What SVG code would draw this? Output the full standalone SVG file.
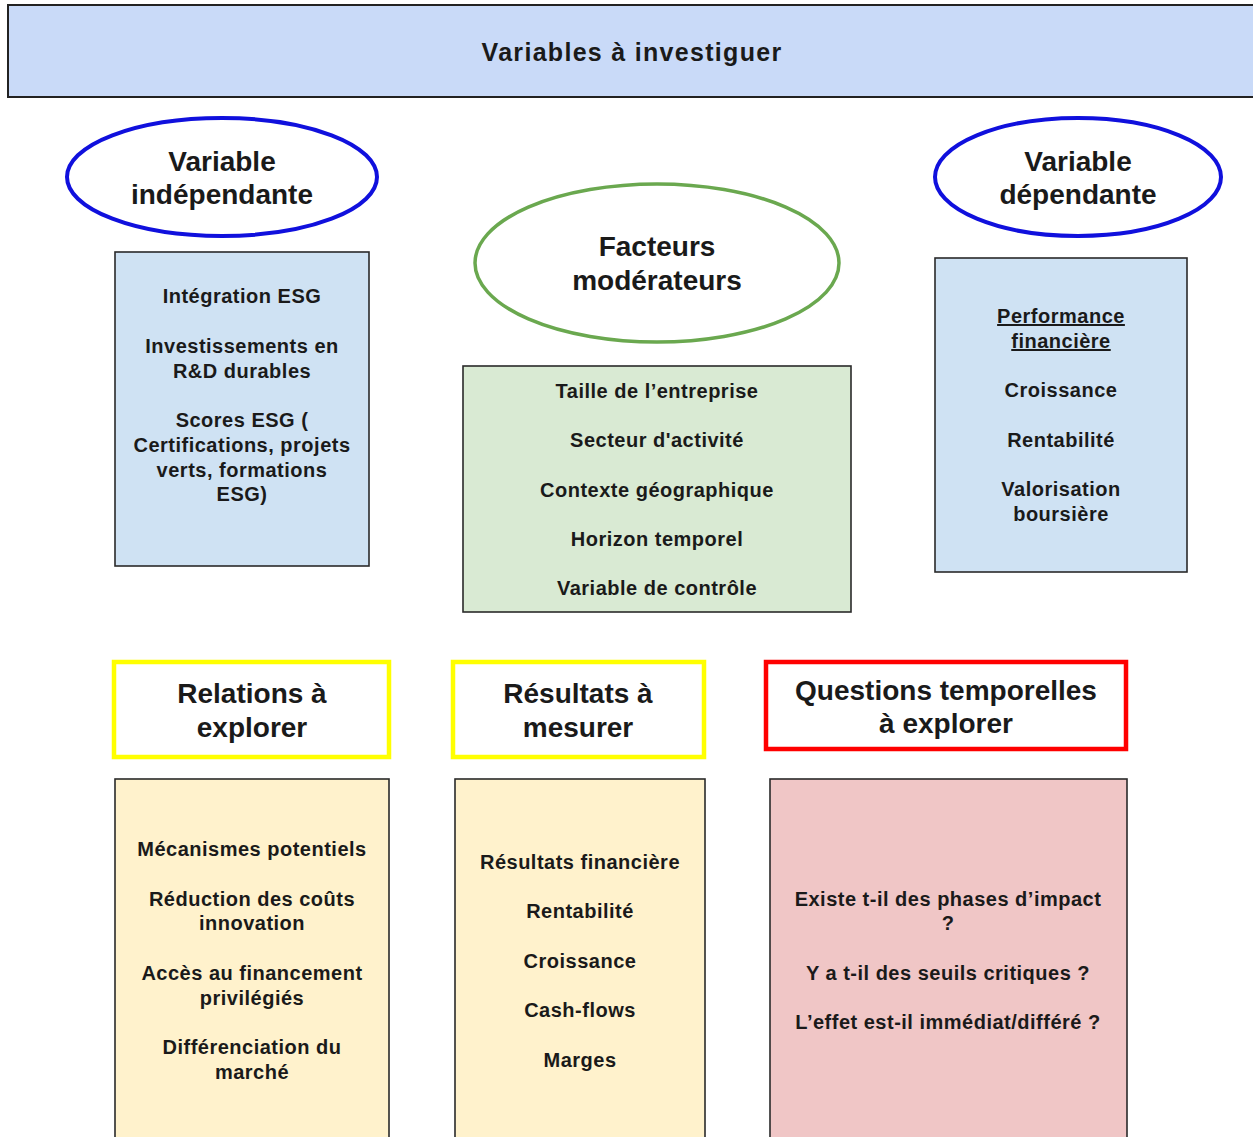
<svg xmlns="http://www.w3.org/2000/svg" width="1253" height="1137" viewBox="0 0 1253 1137">
<style>
  text { font-family: "Liberation Sans", Arial, sans-serif; font-weight: bold; fill: #1a1a1a; text-anchor: middle; }
  .title { font-size: 28px; }
  .head { font-size: 25px; letter-spacing: 1.3px; }
  .item { font-size: 20px; letter-spacing: 0.5px; }
  .box { stroke: #2a2a2a; stroke-width: 1.6; }
  .ell-blue { fill: #ffffff; stroke: #1010dd; stroke-width: 4; }
  .ell-green { fill: #ffffff; stroke: #6aa84f; stroke-width: 3.5; }
  .hdr-yellow { fill: #ffffff; stroke: #ffff00; stroke-width: 4.5; }
  .hdr-red { fill: #ffffff; stroke: #ff0000; stroke-width: 4.5; }
</style>
<rect width="1253" height="1137" fill="#ffffff"/>

<g id="header">
  <rect x="8" y="5" width="1260" height="92" fill="#c9daf8" stroke="#222" stroke-width="2"/>
  <text class="head" x="632" y="61">Variables à investiguer</text>
</g>

<g id="var-indep-title">
  <ellipse class="ell-blue" cx="222" cy="177" rx="155" ry="59"/>
  <text class="title" x="222" y="171">Variable</text>
  <text class="title" x="222" y="204">indépendante</text>
</g>

<g id="var-indep-box">
  <rect class="box" x="115" y="252" width="254" height="314" fill="#cfe2f3"/>
  <text class="item" x="242" y="303">Intégration ESG</text>
  <text class="item" x="242" y="353">Investissements en</text>
  <text class="item" x="242" y="378">R&amp;D durables</text>
  <text class="item" x="242" y="427">Scores ESG (</text>
  <text class="item" x="242" y="452">Certifications, projets</text>
  <text class="item" x="242" y="477">verts, formations</text>
  <text class="item" x="242" y="501">ESG)</text>
</g>

<g id="moderateurs-title">
  <ellipse class="ell-green" cx="657" cy="263" rx="182" ry="79"/>
  <text class="title" x="657" y="256">Facteurs</text>
  <text class="title" x="657" y="290">modérateurs</text>
</g>

<g id="moderateurs-box">
  <rect class="box" x="463" y="366" width="388" height="246" fill="#d9ead3"/>
  <text class="item" x="657" y="398">Taille de l’entreprise</text>
  <text class="item" x="657" y="447">Secteur d'activité</text>
  <text class="item" x="657" y="497">Contexte géographique</text>
  <text class="item" x="657" y="546">Horizon temporel</text>
  <text class="item" x="657" y="595">Variable de contrôle</text>
</g>

<g id="var-dep-title">
  <ellipse class="ell-blue" cx="1078" cy="177" rx="143" ry="59"/>
  <text class="title" x="1078" y="171">Variable</text>
  <text class="title" x="1078" y="204">dépendante</text>
</g>

<g id="var-dep-box">
  <rect class="box" x="935" y="258" width="252" height="314" fill="#cfe2f3"/>
  <text class="item" x="1061" y="323" text-decoration="underline">Performance</text>
  <text class="item" x="1061" y="348" text-decoration="underline">financière</text>
  <text class="item" x="1061" y="397">Croissance</text>
  <text class="item" x="1061" y="447">Rentabilité</text>
  <text class="item" x="1061" y="496">Valorisation</text>
  <text class="item" x="1061" y="521">boursière</text>
</g>

<g id="relations-title">
  <rect class="hdr-yellow" x="114" y="662" width="275" height="95"/>
  <text class="title" x="252" y="703">Relations à</text>
  <text class="title" x="252" y="737">explorer</text>
</g>

<g id="relations-box">
  <rect class="box" x="115" y="779" width="274" height="380" fill="#fff2cc"/>
  <text class="item" x="252" y="856">Mécanismes potentiels</text>
  <text class="item" x="252" y="906">Réduction des coûts</text>
  <text class="item" x="252" y="930">innovation</text>
  <text class="item" x="252" y="980">Accès au financement</text>
  <text class="item" x="252" y="1005">privilégiés</text>
  <text class="item" x="252" y="1054">Différenciation du</text>
  <text class="item" x="252" y="1079">marché</text>
</g>

<g id="resultats-title">
  <rect class="hdr-yellow" x="453" y="662" width="251" height="95"/>
  <text class="title" x="578" y="703">Résultats à</text>
  <text class="title" x="578" y="737">mesurer</text>
</g>

<g id="resultats-box">
  <rect class="box" x="455" y="779" width="250" height="380" fill="#fff2cc"/>
  <text class="item" x="580" y="869">Résultats financière</text>
  <text class="item" x="580" y="918">Rentabilité</text>
  <text class="item" x="580" y="968">Croissance</text>
  <text class="item" x="580" y="1017">Cash-flows</text>
  <text class="item" x="580" y="1067">Marges</text>
</g>

<g id="questions-title">
  <rect class="hdr-red" x="766" y="662" width="360" height="87"/>
  <text class="title" x="946" y="700">Questions temporelles</text>
  <text class="title" x="946" y="733">à explorer</text>
</g>

<g id="questions-box">
  <rect class="box" x="770" y="779" width="357" height="380" fill="#f0c6c6"/>
  <text class="item" x="948" y="906">Existe t-il des phases d’impact</text>
  <text class="item" x="948" y="930">?</text>
  <text class="item" x="948" y="980">Y a t-il des seuils critiques ?</text>
  <text class="item" x="948" y="1029">L’effet est-il immédiat/différé ?</text>
</g>

<g id="connectors"></g>
</svg>
